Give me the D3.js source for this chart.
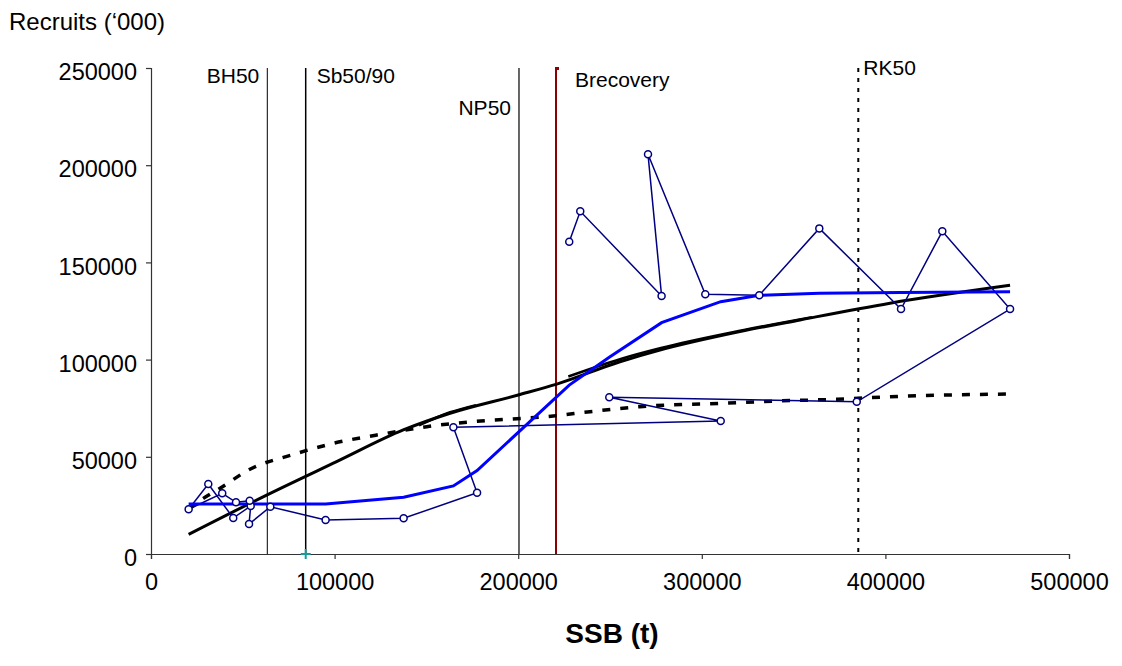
<!DOCTYPE html>
<html>
<head>
<meta charset="utf-8">
<script src="https://cdn.jsdelivr.net/npm/d3@7"></script>
<style>
  body { margin: 0; background: #fff; }
  text { font-family: "Liberation Sans", Arial, sans-serif; fill: #000; }
</style>
</head>
<body>
<div id="chart-container"></div>
<script>
// observed stock-recruit pairs, in the order they are joined
let obsSSB = [227800, 233800, 278100, 270700, 301900, 331300, 364000, 408500, 431000, 467900,
              384400, 249600, 310300, 164700, 177600, 137600, 95100, 65000, 53400, 54300,
              44800, 31200, 20500, 38800, 46300, 53750];
let obsRec = [160650, 176300, 132700, 205600, 133600, 133100, 167500, 126000, 166000, 126000,
              78300, 80600, 68400, 65200, 31500, 18350, 17500, 24300, 15400, 24700,
              18500, 36000, 23000, 31200, 26600, 27400];

// smoother (blue)
let smoothSSB = [20500, 95100, 137600, 164700, 177600, 227800, 249600, 278100, 310300, 331300, 364000, 408500, 467900];
let smoothRec = [25700, 25700, 29200, 35000, 42900, 86900, 101200, 119000, 129800, 133100, 134100, 134500, 134900];

// fitted curve (solid black)
let fitSSB = [20500, 63000, 101100, 137400, 162900, 200000, 221000, 255400, 277200, 320800, 353500, 402500, 467900];
let fitRec = [10100, 30300, 47500, 63800, 72400, 81800, 87400, 98900, 104900, 114400, 120400, 129000, 138200];

// short overlapping fit pieces
let fitASSB = [146000, 162900, 177000];
let fitARec = [66200, 72900, 76600];
let fitBSSB = [227300, 255400, 277200, 320800, 360000];
let fitBRec = [91300, 100200, 105800, 114800, 121800];

// fitted curve (dashed black)
let dashSSB = [20500, 28500, 37600, 53900, 77500, 97500, 128400, 150200, 175500, 219100, 239100, 266300, 309900, 340800, 373500, 402500, 467900];
let dashRec = [23000, 28600, 33800, 43600, 51200, 56500, 62100, 65500, 68100, 71000, 73200, 75800, 77500, 78700, 79600, 80900, 82300];

// reference points
let refNames = ["BH50", "Sb50/90", "NP50", "Brecovery", "RK50"];
let refSSB = [63350, 84260, 200430, 220590, 385240];

let xTicks = [0, 100000, 200000, 300000, 400000, 500000];
let yTicks = [0, 50000, 100000, 150000, 200000, 250000];

let margin = { top: 68, left: 151, right: 53, bottom: 112 };
let width = 1122 - margin.left - margin.right,
    height = 666 - margin.top - margin.bottom;

let root = d3.select("#chart-container")
    .append("svg")
    .attr("width", 1122)
    .attr("height", 666);

let svg = root.append("g")
    .attr("transform", `translate(${margin.left},${margin.top})`);

// ----- SCALES -----
let xScale = d3.scaleLinear().domain([0, 500000]).range([0, width]);
let yScale = d3.scaleLinear().domain([0, 250000]).range([height, 0]);

// ----- AXES -----
let xAxis = svg.append("g")
    .attr("transform", `translate(0,${height})`)
    .call(d3.axisBottom(xScale).tickValues(xTicks).tickFormat(d3.format("d")).tickSizeOuter(0).tickSize(5).tickPadding(14));

let yAxis = svg.append("g")
    .call(d3.axisLeft(yScale).tickValues(yTicks).tickFormat(d3.format("d")).tickSizeOuter(0).tickSize(5).tickPadding(9));

[xAxis, yAxis].forEach(a => {
    a.select(".domain").attr("stroke", "#333").attr("stroke-width", 1.2);
    a.selectAll(".tick line").attr("stroke", "#333").attr("stroke-width", 1.2);
    a.selectAll(".tick text")
        .style("font-family", "'Liberation Sans', Arial, sans-serif")
        .style("font-size", "23.5px")
        .attr("fill", "#000");
});
xAxis.selectAll(".tick text").attr("dy", "0.71em");
yAxis.selectAll(".tick text").attr("dy", "0.5em");

// ----- AXIS LABELS -----
root.append("text")
    .attr("x", 9)
    .attr("y", 30)
    .style("font-size", "24px")
    .text("Recruits (\u2018000)");

root.append("text")
    .attr("x", margin.left + width / 2 + 2)
    .attr("y", 643)
    .style("text-anchor", "middle")
    .style("font-size", "28px")
    .style("font-weight", "bold")
    .text("SSB (t)");

// ----- REFERENCE LINES -----
let refColor = ["#000", "#000", "#000", "#8b0000", "#000"];
let refWidth = [1, 1.5, 1.2, 2, 2];
let refDash = [null, null, null, null, "4,6"];

refSSB.forEach((v, i) => {
    svg.append("line")
        .attr("x1", xScale(v)).attr("x2", xScale(v))
        .attr("y1", yScale(250000)).attr("y2", yScale(0))
        .attr("stroke", refColor[i])
        .attr("stroke-width", refWidth[i])
        .attr("stroke-dasharray", refDash[i]);
});

// little cap on top of Brecovery
svg.append("rect")
    .attr("x", xScale(refSSB[3]) - 1)
    .attr("y", yScale(250000) - 1)
    .attr("width", 4)
    .attr("height", 3)
    .attr("fill", "#8b0000");

// teal cross on the axis at Sb50/90
svg.append("path")
    .attr("transform", `translate(${xScale(refSSB[1])},${yScale(0)})`)
    .attr("d", "M-5,0H5M0,-5V5")
    .attr("stroke", "#169b9b")
    .attr("stroke-width", 2);

// labels next to the lines
let labelPos = [
    { dx: -8, y: 83, anchor: "end" },
    { dx: 11, y: 83, anchor: "start" },
    { dx: -8, y: 115, anchor: "end" },
    { dx: 19, y: 87, anchor: "start" },
    { dx: 5, y: 75, anchor: "start" }
];
refNames.forEach((n, i) => {
    root.append("text")
        .attr("x", margin.left + xScale(refSSB[i]) + labelPos[i].dx)
        .attr("y", labelPos[i].y)
        .style("text-anchor", labelPos[i].anchor)
        .style("font-size", "21px")
        .text(n);
});

// ----- LINES -----
let pairs = (xs, ys) => xs.map((x, i) => ({ x: x, y: ys[i] }));

let line = d3.line()
    .x(d => xScale(d.x))
    .y(d => yScale(d.y));

let curve = d3.line()
    .x(d => xScale(d.x))
    .y(d => yScale(d.y))
    .curve(d3.curveMonotoneX);

// dashed fit
svg.append("path")
    .datum(pairs(dashSSB, dashRec))
    .attr("d", curve)
    .attr("fill", "none")
    .attr("stroke", "#000")
    .attr("stroke-width", 3.5)
    .attr("stroke-dasharray", "8,10");

// solid fit
svg.append("path")
    .datum(pairs(fitSSB, fitRec))
    .attr("d", curve)
    .attr("fill", "none")
    .attr("stroke", "#000")
    .attr("stroke-width", 3);

[pairs(fitASSB, fitARec), pairs(fitBSSB, fitBRec)].forEach(p => {
    svg.append("path")
        .datum(p)
        .attr("d", curve)
        .attr("fill", "none")
        .attr("stroke", "#000")
        .attr("stroke-width", 2.5);
});

// observations
let obs = pairs(obsSSB, obsRec);
svg.append("path")
    .datum(obs)
    .attr("d", line)
    .attr("fill", "none")
    .attr("stroke", "#000080")
    .attr("stroke-width", 1.5);

// smoother
svg.append("path")
    .datum(pairs(smoothSSB, smoothRec))
    .attr("d", line)
    .attr("fill", "none")
    .attr("stroke", "#0000ff")
    .attr("stroke-width", 3);

svg.selectAll(".obs")
    .data(obs)
    .enter()
    .append("circle")
    .attr("class", "obs")
    .attr("cx", d => xScale(d.x))
    .attr("cy", d => yScale(d.y))
    .attr("r", 3.5)
    .attr("fill", "#fff")
    .attr("stroke", "#000080")
    .attr("stroke-width", 1.5);
</script>
</body>
</html>
